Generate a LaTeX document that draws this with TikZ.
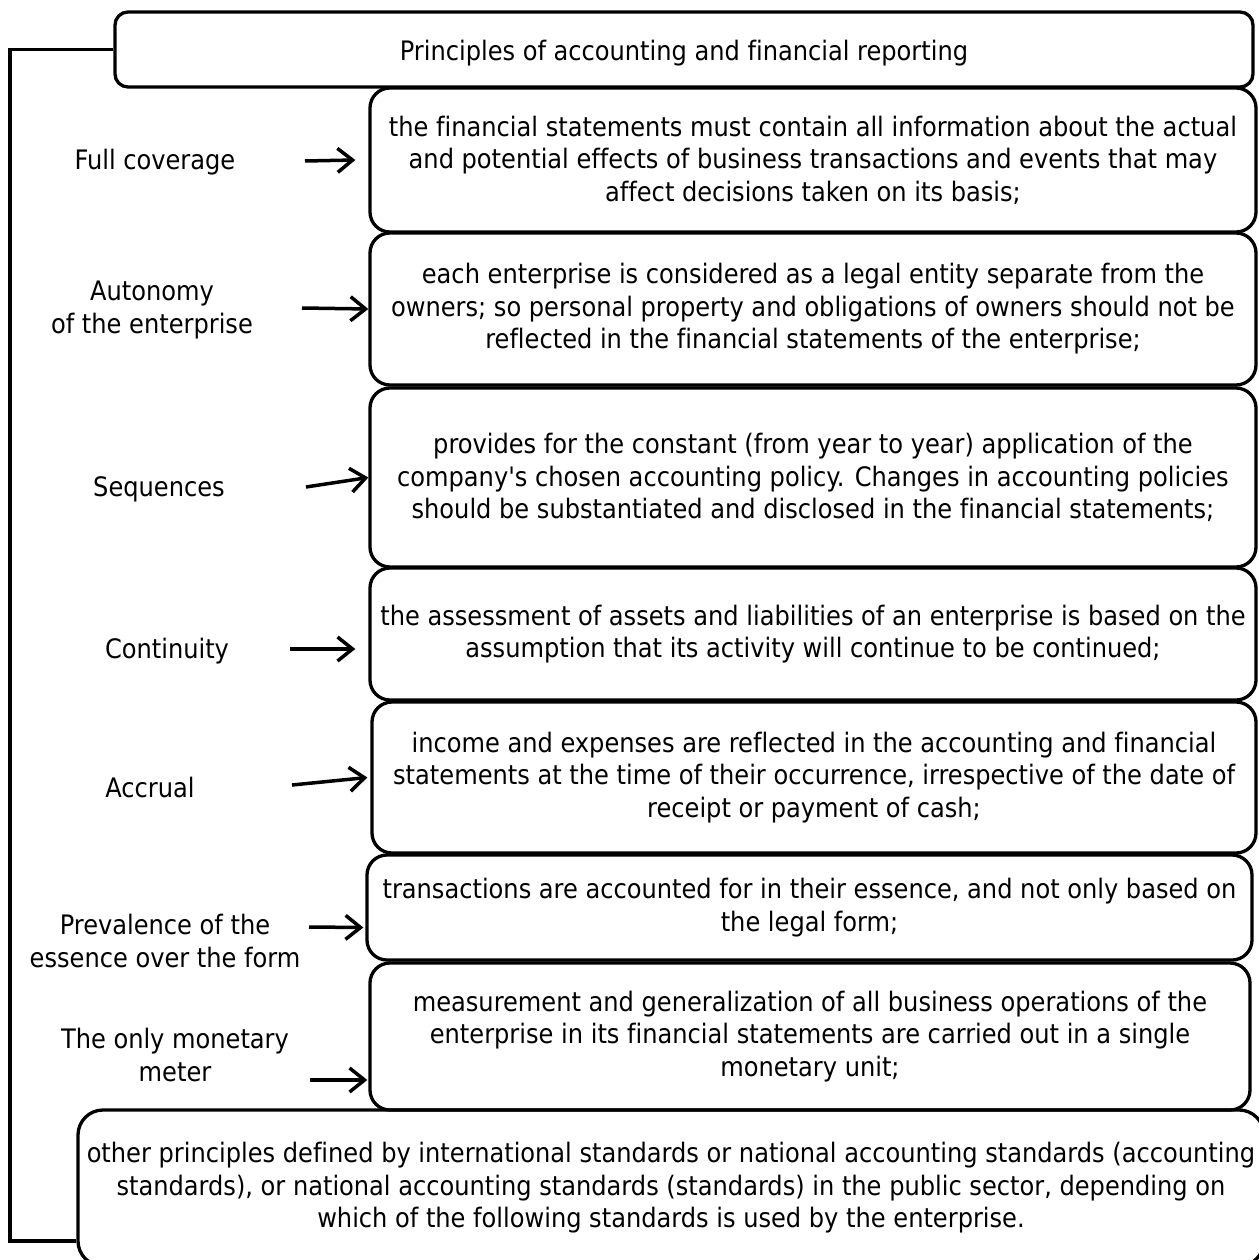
\documentclass[tikz,border=0pt]{standalone}
\usepackage{fontspec}
\setmainfont{DejaVu Sans Condensed}[Ligatures={TeXOff,NoCommon}]
\usetikzlibrary{arrows.meta}
\begin{document}
\begin{tikzpicture}[x=1pt,y=-1pt,
  txt/.style={font=\fontsize{26.8pt}{32.5pt}\selectfont, align=center, inner sep=0pt},
  box/.style={txt, draw, line width=3.3pt, rounded corners=20pt},
  titlebox/.style={txt, draw, line width=3.3pt, rounded corners=13pt, text height=26pt, text depth=4pt},
  lbl/.style={txt},
  arr/.style={line width=3.5pt, -{Straight Barb[length=15pt,width=24pt]}},
  bracket/.style={line width=3.8pt}]
\useasboundingbox (0,0) rectangle (1258,1260);
\node[titlebox, minimum width=1138pt, minimum height=75pt] (t) at (684,49.5) {Principles of accounting and financial reporting};
\node[box, minimum width=886pt, minimum height=144pt] (b1) at (813,160) {the financial statements must contain all information about the actual\\and potential effects of business transactions and events that may\\affect decisions taken on its basis;};
\node[box, minimum width=886pt, minimum height=152pt] (b2) at (813,309) {each enterprise is considered as a legal entity separate from the\\owners; so personal property and obligations of owners should not be\\reflected in the financial statements of the enterprise;};
\node[box, minimum width=886pt, minimum height=179pt] (b3) at (813,477.5) {provides for the constant (from year to year) application of the\\company's chosen accounting policy. Changes in accounting policies\\should be substantiated and disclosed in the financial statements;};
\node[box, minimum width=886pt, minimum height=132pt] (b4) at (813,634) {the assessment of assets and liabilities of an enterprise is based on the\\assumption that its activity will continue to be continued;};
\node[box, minimum width=884pt, minimum height=151pt] (b5) at (814,777.5) {income and expenses are reflected in the accounting and financial\\statements at the time of their occurrence, irrespective of the date of\\receipt or payment of cash;};
\node[box, minimum width=885pt, minimum height=105pt] (b6) at (809.5,907.5) {transactions are accounted for in their essence, and not only based on\\the legal form;};
\node[box, minimum width=880pt, minimum height=147pt] (b7) at (810,1036.5) {measurement and generalization of all business operations of the\\enterprise in its financial statements are carried out in a single\\monetary unit;};
\node[box, rounded corners=25pt, minimum width=1186pt, minimum height=156pt] (b8) at (671,1188) {other principles defined by international standards or national accounting standards (accounting\\standards), or national accounting standards (standards) in the public sector, depending on\\which of the following standards is used by the enterprise.};
\node[lbl] (l1) at (155,162) {Full coverage};
\node[lbl] (l2) at (152,310) {Autonomy\\of the enterprise};
\node[lbl] (l3) at (159,489) {Sequences};
\node[lbl] (l4) at (167,651) {Continuity};
\node[lbl] (l5) at (150,787) {Accrual};
\node[lbl] (l6) at (165,941) {Prevalence of the\\essence over the form};
\node[lbl] (l7) at (175,1055) {The only monetary\\meter};
\coordinate (a1) at (305,161);
\coordinate (a2) at (302,308);
\coordinate (a3) at (306,487);
\coordinate (a4) at (290,649);
\coordinate (a5) at (292,785);
\coordinate (a6) at (309,927);
\coordinate (a7) at (310,1080);
\draw[arr] (a1) -- ([xshift=-13pt]b1.west);
\draw[arr] (a2) -- (b2.west);
\draw[arr] (a3) -- (b3.west);
\draw[arr] (a4) -- ([shift={(-13,15)}]b4.west);
\draw[arr] (a5) -- ([shift={(-3,0)}]b5.west);
\draw[arr] (a6) -- ([shift={(-2,20)}]b6.west);
\draw[arr] (a7) -- ([shift={(-1,43.5)}]b7.west);
\coordinate (bl) at (10,1241);
\draw[bracket] (t.west) -| (bl) -- (bl -| b8.west);
\end{tikzpicture}
\end{document}
